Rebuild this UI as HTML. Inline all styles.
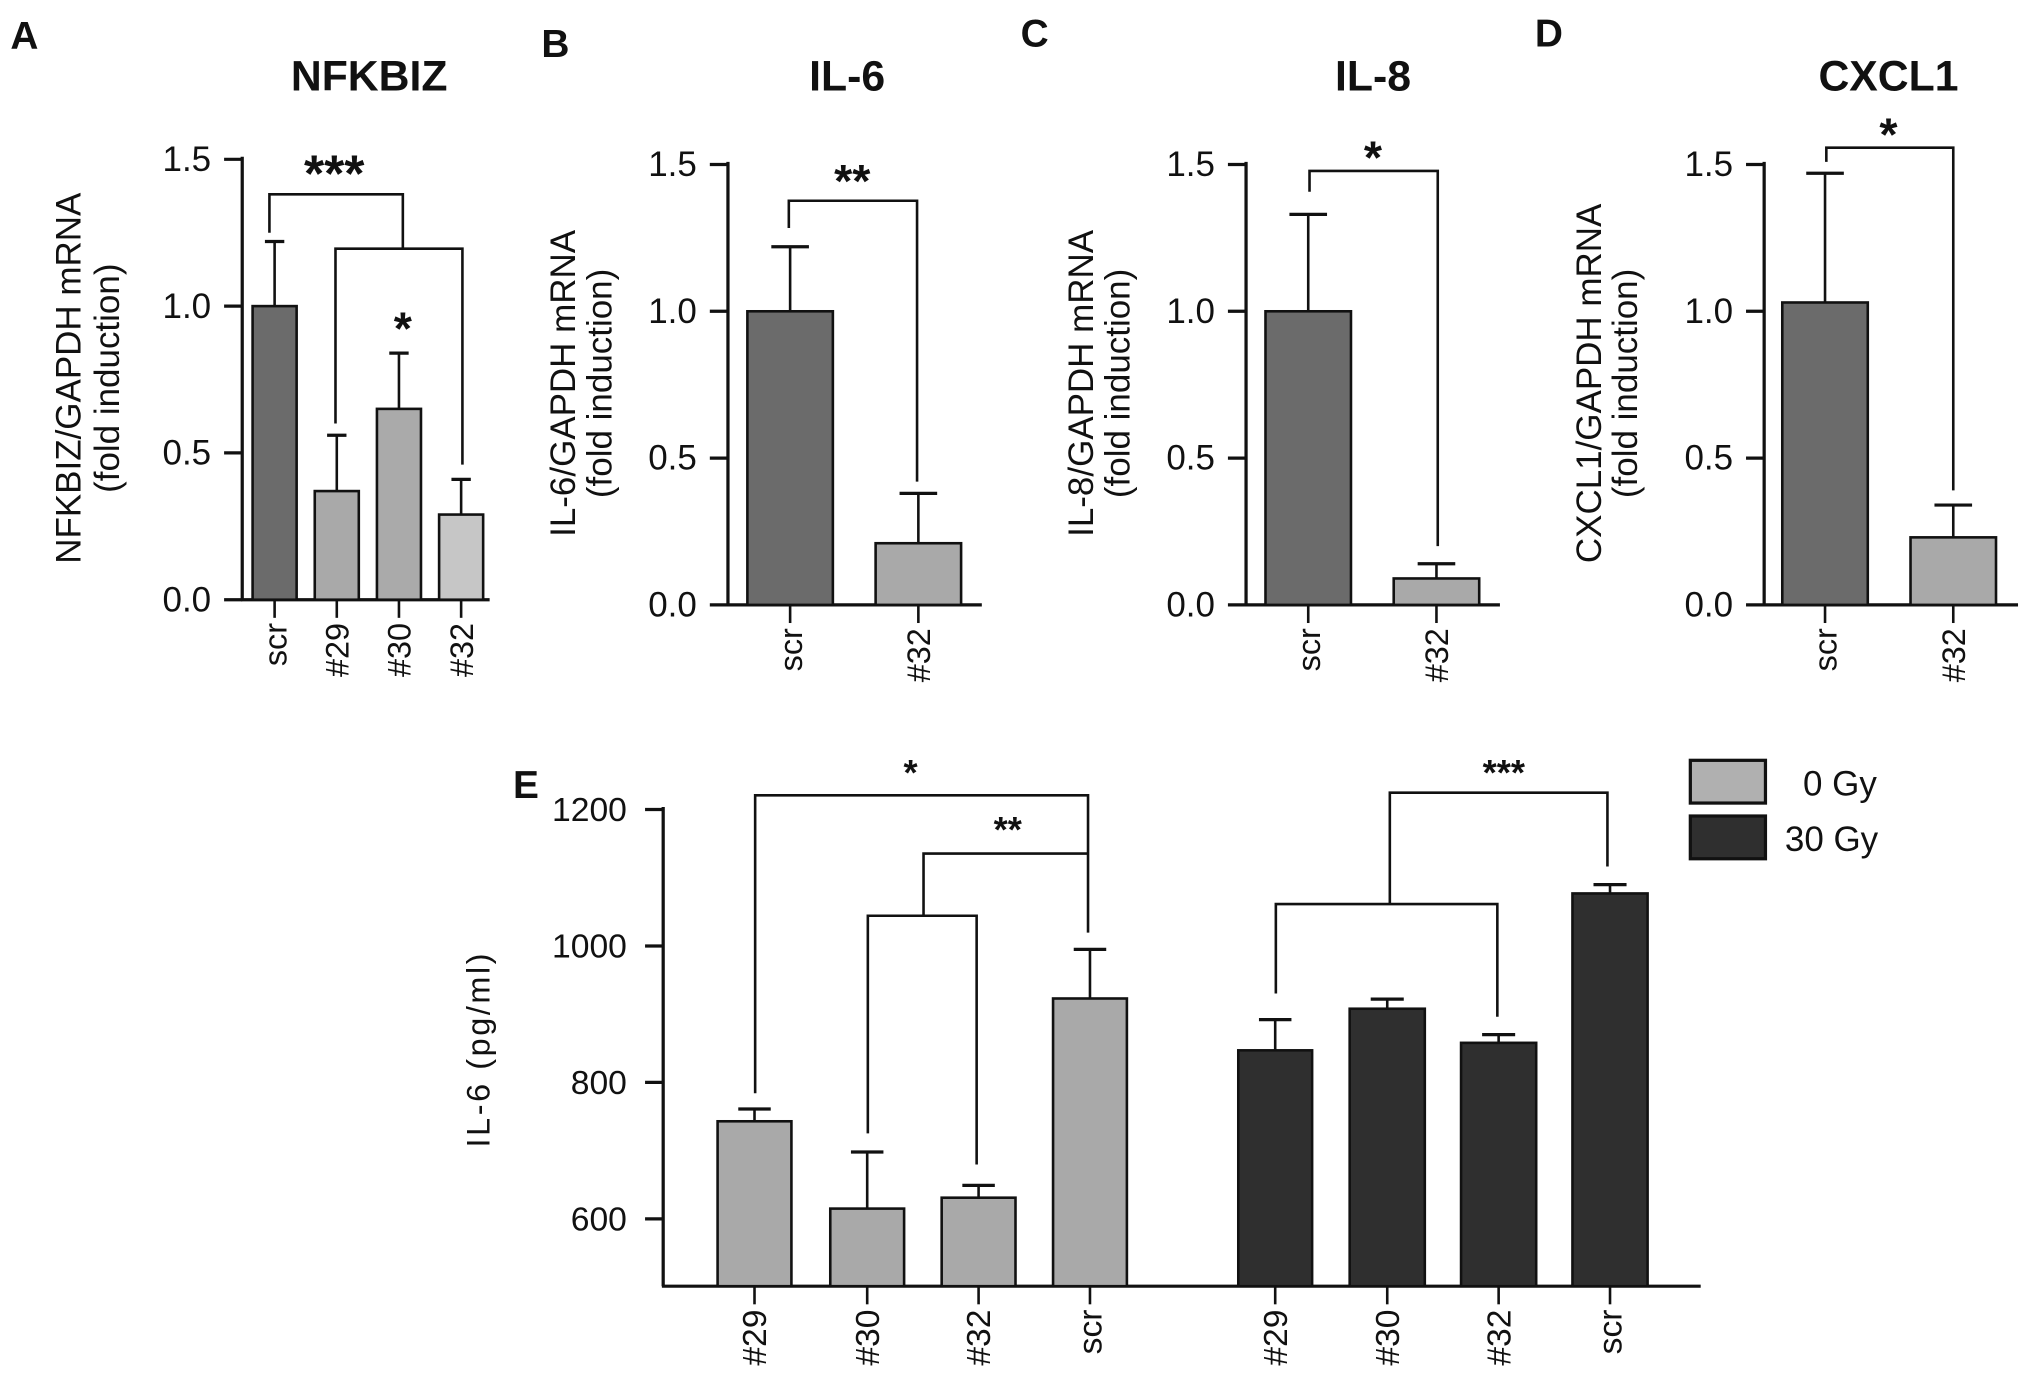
<!DOCTYPE html>
<html><head><meta charset="utf-8"><style>
html,body{margin:0;padding:0;background:#fff}
svg{display:block;font-family:"Liberation Sans",Arial,sans-serif}
</style></head><body>
<svg id="fig" width="2031" height="1388" viewBox="0 0 1568 1071.6" xmlns="http://www.w3.org/2000/svg">
<rect width="1568" height="1071.6" fill="#fff"/>
<g font-weight="bold" font-size="30" fill="#111">
<text x="8" y="38">A</text>
<text x="418" y="44">B</text>
<text x="788" y="36">C</text>
<text x="1185" y="36">D</text>
<text x="396" y="616">E</text>
</g>
<g font-weight="bold" font-size="33" fill="#111" text-anchor="middle">
<text x="285" y="70">NFKBIZ</text>
<text x="654" y="70">IL-6</text>
<text x="1060" y="70">IL-8</text>
<text x="1458" y="70">CXCL1</text>
</g>
<g id="charts"></g>
</svg>
<script>
// ---- Panel data ----
const catsA = ["scr","#29","#30","#32"];
const valsA = [1.0, 0.37, 0.65, 0.29];
const errA = [1.22, 0.56, 0.84, 0.41];
const catsB = ["scr","#32"];
const valsB = [1.0, 0.21];
const errB = [1.22, 0.38];
const catsC = ["scr","#32"];
const valsC = [1.0, 0.09];
const errC = [1.33, 0.14];
const catsD = ["scr","#32"];
const valsD = [1.03, 0.23];
const errD = [1.47, 0.34];
const ticksABCD = ["0.0","0.5","1.0","1.5"];
const catsE = ["#29","#30","#32","scr","#29","#30","#32","scr"];
const valsE0 = [743, 615, 631, 923];
const errE0 = [761, 698, 649, 995];
const valsE30 = [847, 908, 858, 1077];
const errE30 = [892, 922, 870, 1090];
const ticksE = ["600","800","1000","1200"];
const legendLabels = ["0 Gy","30 Gy"];

const NS="http://www.w3.org/2000/svg";
const root=document.getElementById('charts');
function mk(tag,attrs,parent){const e=document.createElementNS(NS,tag);for(const k in attrs)e.setAttribute(k,attrs[k]);(parent||root).appendChild(e);return e;}
function line(x1,y1,x2,y2,w,p){return mk('line',{x1,y1,x2,y2,stroke:'#111','stroke-width':w||2},p);}

function panel(o){
  const g=mk('g',{});
  
  
  const y=v=>o.y0-(v-o.vmin)/(o.vmax-o.vmin)*(o.y0-o.ytop);
  const ax=line(o.ax,o.ytop-2,o.ax,o.base,2.5,g);
  
  
  const bx=line(o.ax-1,o.base,o.xend,o.base,2.5,g);
  
  
  o.ticks.forEach(t=>{
    const v=parseFloat(t), yy=y(v);
    line(o.ax-14,yy,o.ax,yy,2.5,g);
    const tx=mk('text',{x:o.ax-o.tlx,y:yy+9,'text-anchor':'end','font-size':o.tfs,fill:'#111'},g);
    tx.textContent=t;
    
    
  });
  o.cats.forEach((c,i)=>{
    const x0=o.bx[i][0], x1=o.bx[i][1], cx=(x0+x1)/2;
    const v=o.vals[i], e=o.errs[i];
    line(cx,y(e),cx,y(v),2,g);
    line(cx-(x1-x0)*0.22,y(e),cx+(x1-x0)*0.22,y(e),2.5,g);
    const r=mk('rect',{x:x0,y:y(v),width:x1-x0,height:o.base-y(v),fill:o.colors[i],stroke:'#111','stroke-width':2},g);
    
    
    line(cx,o.base,cx,o.base+14,2,g);
    const tx=mk('text',{x:0,y:0,'text-anchor':'end','font-size':o.fs,fill:'#111',transform:`translate(${cx+9},${o.base+18}) rotate(-90)`},g);
    tx.textContent=c;
    
    
  });
  if(o.ylab){
    o.ylab.forEach((s,k)=>{
      const tx=mk('text',{x:0,y:0,'text-anchor':'middle','font-size':o.yfs,fill:'#111','letter-spacing':o.yls||0,transform:`translate(${o.ylx[k]},${o.yly}) rotate(-90)`},g);
      tx.textContent=s;
      
      
    });
  }
  return y;
}
function bracket(pts,star,sx,sy,fs){
  const g=mk('g',{});
  
  
  mk('polyline',{points:pts,fill:'none',stroke:'#111','stroke-width':2},g);
  if(star){const t=mk('text',{x:sx,y:sy,'text-anchor':'middle','font-size':fs||30,'font-weight':'bold',fill:'#111'},g);t.textContent=star;
    
    }
}
const c1='#6b6b6b', c2='#a9a9a9', c3='#c6c6c6';
const yA=panel({name:'nfkbiz',cats:catsA,vals:valsA,errs:errA,ticks:ticksABCD,vmin:0,vmax:1.5,y0:463,ytop:123,base:463,ax:187,xend:378,
  bx:[[195,229],[243,277],[291,325],[339,373]],colors:[c1,c2,'#aaaaaa',c3],fs:25,tfs:27,tlx:24,yfs:27,
  ylab:["NFKBIZ/GAPDH mRNA","(fold induction)"],ylx:[62,92],yly:292});
bracket(`208,${yA(1.25)} 208,150 311,150 311,192`);
bracket(`259,${yA(0.6)} 259,192 357,192 357,${yA(0.46)}`);
const t1=mk('text',{x:258,y:148,'text-anchor':'middle','font-size':40,'font-weight':'bold',fill:'#111'});t1.textContent='***';

const t2=mk('text',{x:311,y:266,'text-anchor':'middle','font-size':36,'font-weight':'bold',fill:'#111'});t2.textContent='*';


const yB=panel({name:'il6',cats:catsB,vals:valsB,errs:errB,ticks:ticksABCD,vmin:0,vmax:1.5,y0:467,ytop:127,base:467,ax:562,xend:758,
  bx:[[577,643],[676,742]],colors:[c1,c2],fs:25,tfs:27,tlx:24,yfs:27,ylab:["IL-6/GAPDH mRNA","(fold induction)"],ylx:[444,472],yly:296});
bracket(`609,176 609,155 708,155 708,${yB(0.42)}`,'**',658,152,36);
const yC=panel({name:'il8',cats:catsC,vals:valsC,errs:errC,ticks:ticksABCD,vmin:0,vmax:1.5,y0:467,ytop:127,base:467,ax:962,xend:1158,
  bx:[[977,1043],[1076,1142]],colors:[c1,c2],fs:25,tfs:27,tlx:24,yfs:27,ylab:["IL-8/GAPDH mRNA","(fold induction)"],ylx:[844,872],yly:296});
bracket(`1011,148 1011,132 1110,132 1110,${yC(0.2)}`,'*',1060,134,36);
const yD=panel({name:'cxcl1',cats:catsD,vals:valsD,errs:errD,ticks:ticksABCD,vmin:0,vmax:1.5,y0:467,ytop:127,base:467,ax:1362,xend:1558,
  bx:[[1376,1442],[1475,1541]],colors:[c1,c2],fs:25,tfs:27,tlx:24,yfs:27,ylab:["CXCL1/GAPDH mRNA","(fold induction)"],ylx:[1236,1264],yly:296});
bracket(`1410,125 1410,114 1508,114 1508,${yD(0.39)}`,'*',1458,116,36);

const yE=panel({name:'il6-elisa',cats:catsE,vals:valsE0.concat(valsE30),errs:errE0.concat(errE30),ticks:ticksE,vmin:600,vmax:1200,y0:941,ytop:625,base:993,ax:512,xend:1313,
  bx:[[554,611],[641,698],[727,784],[813,870],[956,1013],[1042,1100],[1128,1186],[1214,1272]],
  colors:[c2,c2,c2,c2,'#2f2f2f','#2f2f2f','#2f2f2f','#2f2f2f'],fs:26,tfs:26,tlx:28,yfs:25,yls:2,ylab:["IL-6 (pg/ml)"],ylx:[378],yly:810});
bracket(`583,844 583,614 840,614 840,720`,'*',703,606,28);
bracket(`670,875 670,707 754,707 754,899`);
bracket(`713,707 713,659 840,659`,'**',778,650,28);
bracket(`985,767 985,698 1156,698 1156,785`);
bracket(`1073,698 1073,612 1241,612 1241,669`,'***',1161,606,28);
const leg=mk('g',{});


[["#b0b0b0",587],["#2f2f2f",630]].forEach((d,i)=>{
  const r=mk('rect',{x:1305,y:d[1],width:58,height:33,fill:d[0],stroke:'#111','stroke-width':2.5},leg);
  
  
  const t=mk('text',{x:i?1378:1392,y:d[1]+27,'font-size':27,fill:'#111'},leg);
  t.textContent=legendLabels[i];
  
  
});
</script>
</body></html>
